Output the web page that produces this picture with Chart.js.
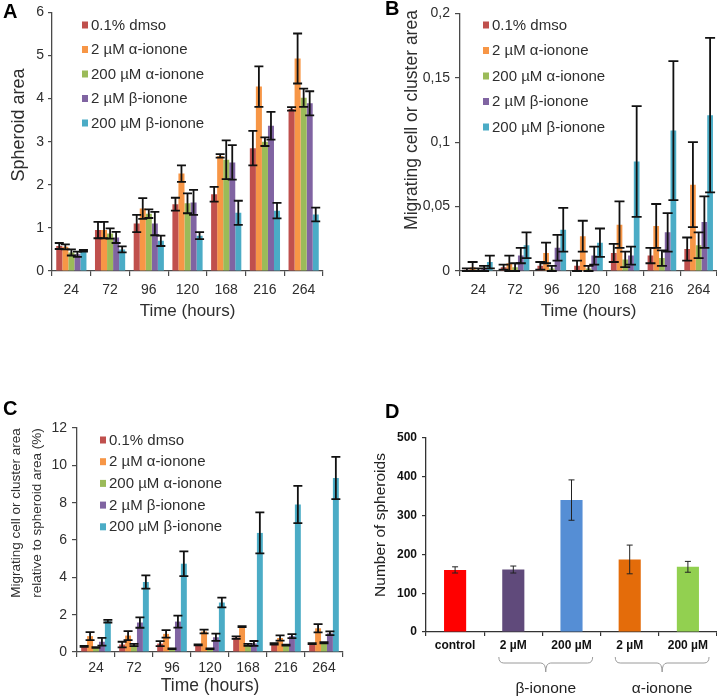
<!DOCTYPE html>
<html><head><meta charset="utf-8">
<script src="https://cdn.jsdelivr.net/npm/chart.js@4"></script>
<style>
html,body{margin:0;padding:0;background:#fff;width:717px;height:698px;overflow:hidden}
canvas{position:absolute}
</style></head>
<body>
<canvas id="cA" width="360" height="330" style="left:0;top:0"></canvas>
<canvas id="cB" width="362" height="330" style="left:355px;top:0"></canvas>
<canvas id="cC" width="360" height="358" style="left:0;top:340px"></canvas>
<canvas id="cD" width="362" height="358" style="left:355px;top:340px"></canvas>
<script>
// ---------- DATA ----------
const hours = ['24','72','96','120','168','216','264'];
const seriesNames = ['0.1% dmso','2 µM α-ionone','200 µM α-ionone','2 µM β-ionone','200 µM β-ionone'];

// Panel A: spheroid area
const dmsoA      = [0.58,0.95,1.10,1.55,1.78,2.85,3.76];
const dmsoAErr   = [0.07,0.19,0.20,0.15,0.17,0.40,0.04];
const alpha2A    = [0.56,0.95,1.45,2.26,2.67,4.28,4.93];
const alpha2AErr = [0.06,0.19,0.24,0.19,0.04,0.47,0.58];
const alpha200A    = [0.43,0.87,1.33,1.57,2.58,3.00,4.02];
const alpha200AErr = [0.07,0.12,0.10,0.23,0.45,0.10,0.21];
const beta2A     = [0.39,0.78,1.10,1.59,2.52,3.37,3.89];
const beta2AErr  = [0.06,0.13,0.27,0.29,0.40,0.32,0.28];
const beta200A    = [0.47,0.50,0.70,0.82,1.35,1.40,1.31];
const beta200AErr = [0.02,0.07,0.12,0.08,0.28,0.18,0.16];
const aTickLabels = ['0','1','2','3','4','5','6'];

// Panel B: migrating cell or cluster area
const dmsoB      = [0.001,0.003,0.004,0.004,0.014,0.012,0.017];
const dmsoBErr   = [0.001,0.002,0.003,0.004,0.007,0.006,0.009];
const alpha2B    = [0.003,0.006,0.014,0.027,0.036,0.035,0.067];
const alpha2BErr = [0.004,0.006,0.008,0.012,0.018,0.017,0.033];
const alpha200B    = [0.001,0.003,0.002,0.002,0.009,0.010,0.020];
const alpha200BErr = [0.001,0.003,0.002,0.002,0.006,0.006,0.010];
const beta2B     = [0.002,0.012,0.018,0.012,0.012,0.030,0.038];
const beta2BErr  = [0.002,0.006,0.010,0.007,0.007,0.015,0.020];
const beta200B    = [0.007,0.020,0.032,0.022,0.085,0.109,0.121];
const beta200BErr = [0.005,0.010,0.017,0.011,0.043,0.054,0.060];
const bTickLabels = ['0','0,05','0,1','0,15','0,2'];

// Panel C: migrating area relative to spheroid area (%)
const dmsoC      = [0.30,0.40,0.45,0.38,0.77,0.44,0.45];
const dmsoCErr   = [0.03,0.15,0.13,0.03,0.07,0.04,0.03];
const alpha2C    = [0.85,0.88,0.97,1.10,1.36,0.75,1.27];
const alpha2CErr = [0.21,0.24,0.20,0.10,0.03,0.14,0.22];
const alpha200C    = [0.24,0.37,0.17,0.17,0.38,0.37,0.50];
const alpha200CErr = [0.02,0.06,0.02,0.02,0.05,0.03,0.03];
const beta2C     = [0.55,1.58,1.63,0.79,0.46,0.85,1.00];
const beta2CErr  = [0.21,0.28,0.32,0.19,0.13,0.11,0.10];
const beta200C    = [1.65,3.75,4.73,2.65,6.38,7.90,9.32];
const beta200CErr = [0.07,0.35,0.66,0.26,1.10,1.00,1.13];
const cTickLabels = ['0','2','4','6','8','10','12'];

// Panel D: number of spheroids
const dCategories = ['control','2 µM','200 µM','2 µM','200 µM'];
const spheroidCounts = [160,161,340,187,168];
const spheroidErr    = [8,9,52,37,14];
const dGroups = [{label:'β-ionone', from:1, to:2},{label:'α-ionone', from:3, to:4}];
const dTickLabels = ['0','100','200','300','400','500'];

// ---------- STYLE ----------
const FONT = "'Liberation Sans', Arial, Helvetica, sans-serif";
Chart.defaults.font.family = FONT;
const seriesColors = ['#c0504d','#f79646','#9bbb59','#8064a2','#4bacc6'];
const dColors = ['#ff0000','#604a7b','#558ed5','#e46c0a','#92d050'];
const AX = '#4a4a4a', TXT = '#2e2e2e';

// ---------- PLUGINS ----------
function errorBars(color, width, cap){
  return {
    id:'errorBars',
    afterDatasetsDraw(chart){
      const ctx = chart.ctx, ys = chart.scales.y;
      chart.data.datasets.forEach((ds,i)=>{
        if(!ds.errors) return;
        const meta = chart.getDatasetMeta(i);
        meta.data.forEach((bar,j)=>{
          const v = ds.data[j], e = ds.errors[j];
          const yt = ys.getPixelForValue(v+e), yb = ys.getPixelForValue(Math.max(v-e,0));
          ctx.save(); ctx.strokeStyle = color; ctx.lineWidth = width;
          ctx.beginPath();
          ctx.moveTo(bar.x, yt); ctx.lineTo(bar.x, yb);
          ctx.moveTo(bar.x-cap, yt); ctx.lineTo(bar.x+cap, yt);
          ctx.moveTo(bar.x-cap, yb); ctx.lineTo(bar.x+cap, yb);
          ctx.stroke(); ctx.restore();
        });
      });
    }
  };
}
function boxLegend(x, y0, dy, font){
  return {
    id:'boxLegend',
    afterDraw(chart){
      const ctx = chart.ctx; ctx.save();
      ctx.font = font; ctx.textBaseline = 'middle'; ctx.textAlign = 'left';
      chart.data.datasets.forEach((ds,i)=>{
        const yy = y0 + i*dy;
        ctx.fillStyle = ds.backgroundColor; ctx.fillRect(x, yy-3.5, 6, 7);
        ctx.fillStyle = TXT; ctx.fillText(ds.label, x+9, yy+0.5);
      });
      ctx.restore();
    }
  };
}
function texts(items){
  return {
    id:'texts',
    afterDraw(chart){
      const ctx = chart.ctx;
      items.forEach(it=>{
        ctx.save();
        ctx.font = it.font; ctx.fillStyle = it.color || TXT;
        ctx.textAlign = it.align || 'center'; ctx.textBaseline = it.baseline || 'middle';
        ctx.translate(it.x, it.y);
        if(it.rotate) ctx.rotate(it.rotate);
        ctx.fillText(it.text, 0, 0);
        ctx.restore();
      });
    }
  };
}
function braces(groups, yTop, h, labelY){
  return {
    id:'braces',
    afterDraw(chart){
      const ctx = chart.ctx, xs = chart.scales.x;
      const tf = `bold 12px ${FONT}`;
      groups.forEach(g=>{
        ctx.save();
        ctx.font = tf;
        const c1 = xs.getPixelForValue(g.from), c2 = xs.getPixelForValue(g.to);
        const w1 = ctx.measureText(chart.data.labels[g.from]).width;
        const w2 = ctx.measureText(chart.data.labels[g.to]).width;
        const x1 = c1 - w1/2 - 1, x2 = c2 + w2/2 + 1;
        const xm = (x1+x2)/2, ym = yTop + h*0.4, r = 5;
        ctx.strokeStyle = '#9a9a9a'; ctx.lineWidth = 1;
        ctx.beginPath();
        ctx.moveTo(x1, yTop);
        ctx.quadraticCurveTo(x1, ym, x1+r, ym);
        ctx.lineTo(xm-r, ym);
        ctx.quadraticCurveTo(xm, ym, xm, yTop+h);
        ctx.quadraticCurveTo(xm, ym, xm+r, ym);
        ctx.lineTo(x2-r, ym);
        ctx.quadraticCurveTo(x2, ym, x2, yTop);
        ctx.stroke();
        ctx.font = `15.5px ${FONT}`; ctx.fillStyle = '#222';
        ctx.textAlign = 'center'; ctx.textBaseline = 'middle';
        ctx.fillText(g.label, xm, labelY);
        ctx.restore();
      });
    }
  };
}

// ---------- HELPERS ----------
function sets(values, errors){
  return values.map((v,i)=>({
    label: seriesNames[i], data: v, errors: errors[i],
    backgroundColor: seriesColors[i], borderWidth: 0,
    categoryPercentage: 0.78, barPercentage: 1
  }));
}
function timeChart(id, vals, errs, o){
  return new Chart(document.getElementById(id), {
    type:'bar',
    data:{ labels: hours, datasets: sets(vals, errs) },
    options:{
      responsive:false, animation:false, events:[],
      layout:{ padding:{ top:o.top, left:0, right:o.right, bottom:0 } },
      plugins:{ legend:{display:false}, tooltip:{enabled:false} },
      scales:{
        x:{
          grid:{ drawOnChartArea:false, tickLength:5, color:AX, lineWidth:1.2 },
          border:{ color:AX, width:1.3 },
          ticks:{ font:{size:14}, color:TXT, padding:o.xPad, maxRotation:0 },
          title:{ display:true, text:'Time (hours)', font:{size:o.xtSize}, color:TXT, padding:{top:0,bottom:o.xtPad} },
          afterFit: s=>{ s.height = o.xH; }
        },
        y:{
          min:0, max:o.max,
          grid:{ drawOnChartArea:false, tickLength:o.yTick, color:AX, lineWidth:1.2 },
          border:{ color:AX, width:1.3 },
          ticks:{ stepSize:o.step, font:{size:14}, color:TXT, padding:o.yPad, callback:(v,i)=>o.tickLabels[i] },
          afterFit: s=>{ s.width = o.yW; }
        }
      }
    },
    plugins:[ errorBars('#111', 1.8, o.cap), boxLegend(o.lx, o.ly, o.ldy, `15px ${FONT}`), texts(o.texts) ]
  });
}

// ---------- PANEL A ----------
timeChart('cA',
  [dmsoA, alpha2A, alpha200A, beta2A, beta200A],
  [dmsoAErr, alpha2AErr, alpha200AErr, beta2AErr, beta200AErr],
  { top:10, right:37, xH:59, yW:52, max:6, step:1, tickLabels:aTickLabels,
    xPad:6, xtSize:17, xtPad:8, yTick:4, yPad:4, cap:4.5,
    lx:82, ly:25, ldy:24.5,
    texts:[
      {text:'A', x:3, y:18, font:`bold 20px ${FONT}`, align:'left', baseline:'alphabetic', color:'#000'},
      {text:'Spheroid area', x:19, y:125, rotate:-Math.PI/2, font:`18px ${FONT}`}
    ] });

// ---------- PANEL B ----------
timeChart('cB',
  [dmsoB, alpha2B, alpha200B, beta2B, beta200B],
  [dmsoBErr, alpha2BErr, alpha200BErr, beta2BErr, beta200BErr],
  { top:11, right:0, xH:59, yW:105, max:0.2, step:0.05, tickLabels:bTickLabels,
    xPad:6, xtSize:17, xtPad:8, yTick:5, yPad:5, cap:5,
    lx:128, ly:25, ldy:25.5,
    texts:[
      {text:'B', x:30, y:15, font:`bold 20px ${FONT}`, align:'left', baseline:'alphabetic', color:'#000'},
      {text:'Migrating cell or cluster area', x:57, y:120, rotate:-Math.PI/2, font:`17.5px ${FONT}`}
    ] });

// ---------- PANEL C ----------
timeChart('cC',
  [dmsoC, alpha2C, alpha200C, beta2C, beta200C],
  [dmsoCErr, alpha2CErr, alpha200CErr, beta2CErr, beta200CErr],
  { top:88, right:17, xH:46, yW:77, max:12, step:2, tickLabels:cTickLabels,
    xPad:3, xtSize:17.5, xtPad:1.5, yTick:5, yPad:5, cap:4.5,
    lx:100, ly:100, ldy:21.7,
    texts:[
      {text:'C', x:3, y:75, font:`bold 20px ${FONT}`, align:'left', baseline:'alphabetic', color:'#000'},
      {text:'Migrating cell or cluster area', x:16, y:173, rotate:-Math.PI/2, font:`13.5px ${FONT}`},
      {text:'relative to spheroid area (%)', x:37, y:173, rotate:-Math.PI/2, font:`13.5px ${FONT}`}
    ] });

// ---------- PANEL D ----------
new Chart(document.getElementById('cD'), {
  type:'bar',
  data:{ labels:dCategories, datasets:[{
    label:'Number of spheroids', data:spheroidCounts, errors:spheroidErr,
    backgroundColor:dColors, borderWidth:0, categoryPercentage:0.38, barPercentage:1
  }]},
  options:{
    responsive:false, animation:false, events:[],
    layout:{ padding:{ top:98, left:0, right:0, bottom:0 } },
    plugins:{ legend:{display:false}, tooltip:{enabled:false} },
    scales:{
      x:{
        grid:{ drawOnChartArea:false, tickLength:4, color:'#333', lineWidth:1.2 },
        border:{ color:'#333', width:1.3 },
        ticks:{ font:{size:12, weight:'bold'}, color:'#111', padding:2, maxRotation:0 },
        afterFit: s=>{ s.height = 66; }
      },
      y:{
        min:0, max:500,
        grid:{ drawOnChartArea:false, tickLength:4, color:'#333', lineWidth:1.2 },
        border:{ color:'#333', width:1.3 },
        ticks:{ stepSize:100, font:{size:12, weight:'bold'}, color:'#111', padding:5, callback:(v,i)=>dTickLabels[i] },
        afterFit: s=>{ s.width = 71; }
      }
    }
  },
  plugins:[ errorBars('#222', 1, 3), braces(dGroups, 317, 15, 349), texts([
    {text:'D', x:30, y:78, font:`bold 20px ${FONT}`, align:'left', baseline:'alphabetic', color:'#000'},
    {text:'Number of spheroids', x:26, y:185, rotate:-Math.PI/2, font:`15.5px ${FONT}`, color:'#222'}
  ]) ]
});
</script>
</body></html>
